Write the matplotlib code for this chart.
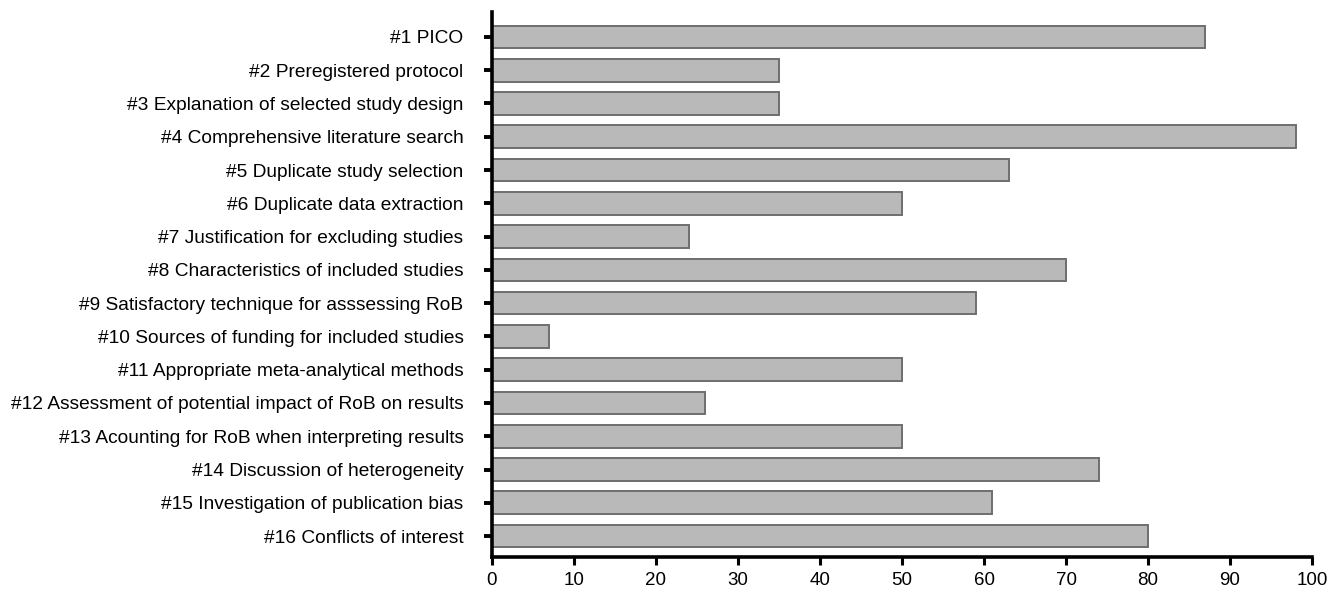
import matplotlib
matplotlib.use("Agg")
import matplotlib.pyplot as plt

ITEMS = [
    "#1 PICO",
    "#2 Preregistered protocol",
    "#3 Explanation of selected study design",
    "#4 Comprehensive literature search",
    "#5 Duplicate study selection",
    "#6 Duplicate data extraction",
    "#7 Justification for excluding studies",
    "#8 Characteristics of included studies",
    "#9 Satisfactory technique for asssessing RoB",
    "#10 Sources of funding for included studies",
    "#11 Appropriate meta-analytical methods",
    "#12 Assessment of potential impact of RoB on results",
    "#13 Acounting for RoB when interpreting results",
    "#14 Discussion of heterogeneity",
    "#15 Investigation of publication bias",
    "#16 Conflicts of interest",
]
VALUES = [87, 35, 35, 98, 63, 50, 24, 70, 59, 7, 50, 26, 50, 74, 61, 80]
XTICKS = list(range(0, 101, 10))

plt.rcParams.update({"font.family": ["Liberation Sans", "DejaVu Sans"], "font.size": 13.8})

fig = plt.figure(figsize=(13.38, 5.9), dpi=100)
# axes box placed to match the reference pixel layout
ax = fig.add_axes([0.3677, 0.0559, 0.6129, 0.9238])

pos = list(range(len(ITEMS)))
ax.barh(pos, VALUES, height=0.68, color="#b9b9b9", edgecolor="#6e6e6e", linewidth=1.4)

ax.set_ylim(len(ITEMS) - 1 + 0.63, -0.75)
ax.set_xlim(0, 100)
ax.set_yticks(pos)
ax.set_yticklabels(ITEMS)
ax.set_xticks(XTICKS)

for s in ("top", "right"):
    ax.spines[s].set_visible(False)
for s in ("left", "bottom"):
    ax.spines[s].set_linewidth(2.6)
    ax.spines[s].set_color("black")

ax.tick_params(axis="y", length=5.5, width=2.8, pad=15, direction="out")
ax.tick_params(axis="x", length=6, width=2.2, pad=5, direction="out", labelsize=13.5)

fig.savefig("out.png", dpi=100)
